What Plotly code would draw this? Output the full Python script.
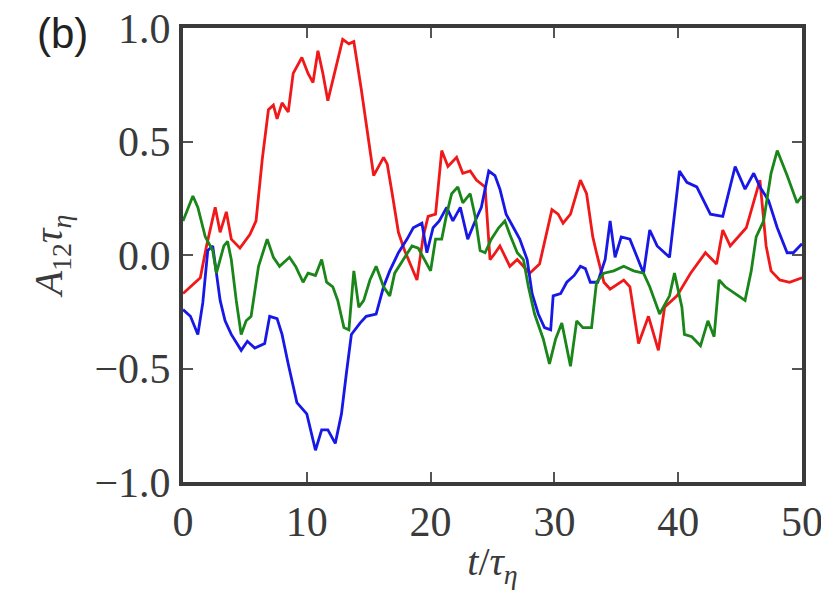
import plotly.graph_objects as go

red_t = [0, 1.4, 1.9, 2.6, 3.0, 3.5, 3.9, 4.6, 5.4, 5.9, 6.4, 6.9, 7.3, 7.6, 8.0, 8.5, 8.9, 9.6, 10.1, 10.5,
         10.9, 11.3, 11.7, 12.3, 12.9, 13.4, 13.8, 14.4, 15.1, 15.4, 16.2, 16.5, 16.9, 17.4, 17.9, 18.9, 19.4, 19.8,
         20.4, 20.9, 21.4, 22.1, 22.6, 23.2, 23.7, 24.4, 24.8, 25.1, 25.6, 26.4, 27.0, 27.5, 28.0, 28.8, 29.8,
         30.3, 30.7, 31.3, 32.1, 32.6, 33.1, 33.4, 34.0, 34.5, 35.6, 36.1, 36.8, 37.6, 38.4, 38.9, 39.9, 41.0,
         42.2, 43.1, 43.6, 44.2, 45.5, 46.6, 47.1, 47.5, 48.2, 49.0, 50.0]
red_v = [-0.17, -0.10, 0.04, 0.21, 0.10, 0.19, 0.07, 0.03, 0.09, 0.15, 0.42, 0.64, 0.66, 0.60, 0.67, 0.63, 0.80,
         0.87, 0.80, 0.76, 0.90, 0.80, 0.68, 0.81, 0.95, 0.93, 0.94, 0.73, 0.45, 0.35, 0.43, 0.40, 0.27, 0.10,
         0.02, -0.11, 0.08, 0.17, 0.18, 0.46, 0.39, 0.43, 0.36, 0.37, 0.33, 0.30, -0.02, 0.0, 0.04, -0.05,
         -0.02, -0.05, -0.08, -0.04, 0.20, 0.18, 0.14, 0.18, 0.33, 0.27, 0.08, 0.01, -0.12, -0.15, -0.11, -0.14,
         -0.39, -0.27, -0.42, -0.23, -0.18, -0.08, 0.01, -0.04, 0.11, 0.04, 0.12, 0.33, 0.04, -0.07, -0.11,
         -0.12, -0.10]

blue_t = [0, 0.6, 1.2, 1.6, 2.0, 2.4, 3.0, 3.4, 3.9, 4.7, 5.2, 5.8, 6.6, 7.0, 7.6, 8.0, 8.5, 9.2, 10.0, 10.7,
          11.2, 11.7, 12.3, 12.8, 13.2, 13.6, 14.3, 14.8, 15.6, 16.2, 16.7, 17.4, 18.1, 18.6, 19.3, 19.7, 20.2,
          20.7, 21.3, 21.8, 22.4, 23.0, 23.6, 24.1, 24.7, 25.2, 25.6, 26.1, 26.7, 27.2, 27.8, 28.2, 28.7, 29.2,
          29.7, 29.9, 30.5, 31.0, 31.6, 32.1, 32.5, 32.9, 33.5, 34.1, 34.5, 34.9, 35.4, 36.1, 37.2, 37.7, 38.3,
          39.3, 40.1, 40.7, 41.5, 42.6, 43.6, 44.6, 45.4, 46.1, 46.6, 47.3, 48.0, 48.8, 49.3, 50.0]
blue_v = [-0.24, -0.27, -0.35, -0.21, 0.02, 0.04, -0.20, -0.29, -0.35, -0.42, -0.38, -0.41, -0.39, -0.27, -0.28,
          -0.35, -0.48, -0.65, -0.70, -0.86, -0.77, -0.77, -0.83, -0.70, -0.52, -0.35, -0.30, -0.27, -0.26, -0.14,
          -0.07, 0.01, 0.07, 0.12, 0.14, 0.01, 0.12, 0.15, 0.21, 0.15, 0.21, 0.07, 0.15, 0.21, 0.37, 0.35, 0.29,
          0.18, 0.12, 0.07, -0.02, -0.17, -0.26, -0.32, -0.33, -0.18, -0.17, -0.12, -0.09, -0.05, -0.06, -0.12,
          -0.12, -0.02, 0.15, -0.01, 0.08, 0.07, -0.08, 0.11, 0.04, -0.01, 0.37, 0.32, 0.30, 0.18, 0.17, 0.39,
          0.29, 0.36, 0.30, 0.24, 0.12, 0.01, 0.01, 0.05]

green_t = [0, 0.8, 1.2, 1.8, 2.4, 2.7, 3.3, 3.6, 3.9, 4.3, 4.7, 5.1, 5.5, 6.1, 6.8, 7.3, 7.8, 8.6, 9.1, 9.7,
           10.1, 10.7, 11.2, 11.6, 12.1, 12.5, 13.0, 13.4, 13.8, 14.2, 14.6, 15.1, 15.6, 16.2, 16.7, 17.1, 17.8,
           18.5, 19.0, 20.0, 20.4, 20.9, 21.3, 21.7, 22.2, 22.6, 23.2, 23.6, 24.0, 24.4, 24.9, 25.5, 26.0, 26.4,
           27.0, 27.5, 27.9, 28.4, 29.1, 29.6, 30.1, 30.6, 31.3, 31.8, 32.3, 33.0, 33.4, 34.0, 34.8, 35.6, 36.4,
           37.2, 37.7, 38.5, 39.3, 39.7, 40.3, 40.5, 41.1, 41.8, 42.4, 42.9, 43.3, 43.8, 44.6, 45.4, 45.9, 46.3,
           46.9, 47.5, 48.0, 48.8, 49.6, 50.0]
green_v = [0.15, 0.26, 0.21, 0.08, 0.02, -0.08, 0.04, 0.06, -0.02, -0.20, -0.35, -0.29, -0.27, -0.05, 0.07,
           -0.01, -0.05, -0.01, -0.05, -0.12, -0.08, -0.09, -0.02, -0.12, -0.14, -0.20, -0.32, -0.33, -0.07,
           -0.23, -0.20, -0.11, -0.05, -0.14, -0.18, -0.08, -0.02, 0.04, 0.03, -0.07, 0.07, 0.07, 0.18, 0.27,
           0.30, 0.23, 0.27, 0.17, 0.02, 0.01, 0.07, 0.12, 0.15, 0.09, 0.01, -0.02, -0.14, -0.26, -0.37, -0.48,
           -0.37, -0.30, -0.49, -0.29, -0.32, -0.32, -0.12, -0.08, -0.07, -0.05, -0.07, -0.08, -0.14, -0.26,
           -0.18, -0.08, -0.23, -0.35, -0.36, -0.40, -0.29, -0.36, -0.11, -0.14, -0.17, -0.20, -0.07, 0.08,
           0.15, 0.36, 0.46, 0.35, 0.23, 0.26]

x_ticks = [0, 10, 20, 30, 40, 50]
x_labels = ["0", "10", "20", "30", "40", "50"]
y_ticks = [-1.0, -0.5, 0.0, 0.5, 1.0]
y_labels = ["\u22121.0", "\u22120.5", "0.0", "0.5", "1.0"]

fig = go.Figure()
for t, v, c in [(red_t, red_v, "#f01818"), (blue_t, blue_v, "#1818e6"), (green_t, green_v, "#1a861a")]:
    fig.add_trace(go.Scatter(x=t, y=v, mode="lines", line=dict(color=c, width=2.8), showlegend=False))

axis_common = dict(showgrid=False, zeroline=False, showline=True, linecolor="#3a3a3a", linewidth=4,
                   mirror="ticks", ticks="inside", ticklen=10, tickwidth=2, tickcolor="#555555",
                   automargin=False, ticklabeloverflow="allow", ticklabelstandoff=0)
fig.update_xaxes(range=[0, 50], tickvals=x_ticks, ticktext=x_labels,
                 tickfont=dict(family="Liberation Serif", size=42, color="#3a3a3a"),
                 title=dict(text="<i>t</i>/<i>τ</i><sub><i>η</i></sub>",
                            font=dict(family="Liberation Serif", size=40, color="#3a3a3a"), standoff=4),
                 **axis_common)
fig.update_yaxes(range=[-1.0, 1.0], tickvals=y_ticks, ticktext=y_labels,
                 tickfont=dict(family="Liberation Serif", size=42, color="#3a3a3a"),
                 title=dict(text="<i>A</i><sub>12</sub><i>τ</i><sub><i>η</i></sub>",
                            font=dict(family="Liberation Serif", size=40, color="#3a3a3a"), standoff=20),
                 **axis_common)
fig.add_annotation(text="(b)", xref="paper", yref="paper", x=-0.239, y=1.044, xanchor="left", yanchor="top",
                   showarrow=False, font=dict(family="Liberation Sans", size=42, color="#222222"))
fig.update_layout(width=821, height=592, margin=dict(l=175, r=27, t=20, b=118),
                  plot_bgcolor="white", paper_bgcolor="white")
fig.write_html("out.html")
